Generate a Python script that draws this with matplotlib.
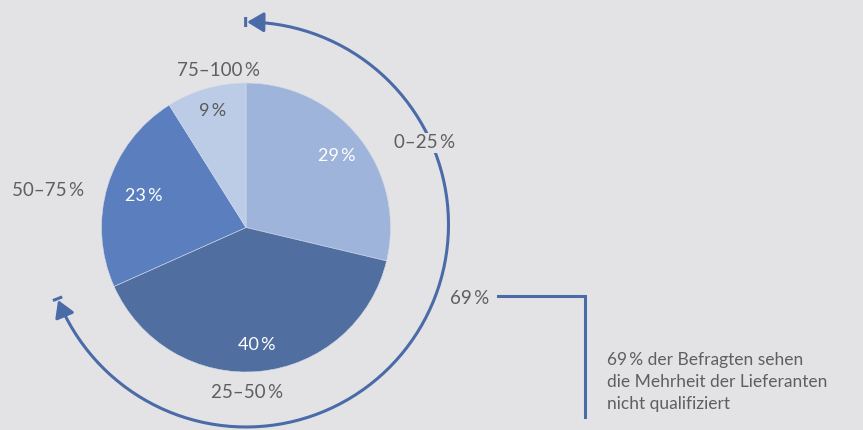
import numpy as np
import matplotlib.pyplot as plt
from matplotlib.path import Path
from matplotlib.patches import FancyArrowPatch

plt.rcParams['font.family'] = ['Lato', 'DejaVu Sans']

shares = [29, 40, 23, 9]
ranges = ['0–25\u2009%', '25–50\u2009%', '50–75\u2009%', '75–100\u2009%']
colors = ['#9fb4db', '#506fa0', '#5b7fbe', '#bccbe6']
pct_colors = ['white', 'white', 'white', '#5a5a5a']
range_pos = [(425, 287), (247, 38), (48, 240), (218, 359)]
majority = shares[0] + shares[1]
note = '69\u2009% der Befragten sehen\ndie Mehrheit der Lieferanten\nnicht qualifiziert'

bg = '#e3e3e5'
blue = '#4a6aa8'
grey = '#5f5f5f'

fig = plt.figure(figsize=(8.63, 4.30), dpi=100, facecolor=bg)
ax = fig.add_axes([0, 0, 1, 1])
ax.set_facecolor(bg)

cx, cy, r = 246, 202.5, 144.5
wedges, _ = ax.pie(shares, colors=colors, startangle=90, counterclock=False,
                   center=(cx, cy), radius=r, frame=True,
                   wedgeprops=dict(edgecolor='#d3dbea', linewidth=0.4))
ax.set_xlim(0, 863)
ax.set_ylim(0, 430)
ax.set_aspect('equal')
ax.axis('off')

# percentage labels inside the wedges
for w, s, c, d in zip(wedges, shares, pct_colors, [0.8, 0.82, 0.74, 0.84]):
    mid = np.deg2rad((w.theta1 + w.theta2) / 2)
    ax.text(cx + d * r * np.cos(mid), cy + d * r * np.sin(mid), f'{s}\u2009%',
            color=c, fontsize=13, ha='center', va='center')

# arc around the first two slices, arrow heads with a stop bar at each end
acx, acy, ar = 246, 205.5, 202.5
a0 = 90
a1 = 90 - majority / 100 * 360
t = np.deg2rad(np.linspace(a0 - 0.3, a1 + 0.3, 200))
pts = np.column_stack([acx + ar * np.cos(t), acy + ar * np.sin(t)])
arc = FancyArrowPatch(path=Path(pts), arrowstyle='<|-|>,head_length=0.5,head_width=0.3',
                      mutation_scale=20, color=blue, lw=2.2, shrinkA=0, shrinkB=0)
ax.add_patch(arc)
for a in (a0 + 0.1, a1 - 0.1):
    ang = np.deg2rad(a)
    ax.plot([acx + (ar - 5) * np.cos(ang), acx + (ar + 5) * np.cos(ang)],
            [acy + (ar - 5) * np.sin(ang), acy + (ar + 5) * np.sin(ang)],
            color=blue, lw=2.2, solid_capstyle='butt')

for lab, (x, y) in zip(ranges, range_pos):
    ax.text(x, y, lab, color=grey, fontsize=13.5, ha='center', va='center',
            bbox=dict(facecolor=bg, edgecolor='none', pad=1))

ax.text(470, 131, f'{majority}\u2009%', color=grey, fontsize=13.5, ha='center', va='center')
ax.plot([498, 585, 585], [134, 134, 13], color=blue, lw=2.2, solid_joinstyle='miter')
ax.text(607, 48, note, color=grey, fontsize=12.5, ha='left', va='center',
        linespacing=1.45)

fig.savefig('out.png', dpi=100, facecolor=bg)
